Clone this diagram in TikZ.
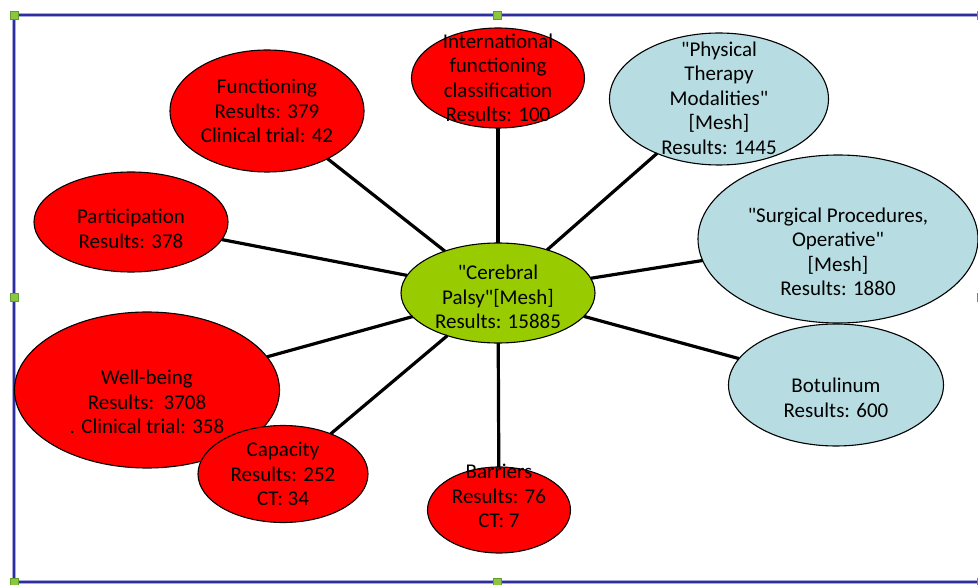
\documentclass[tikz,border=0pt]{standalone}
\usepackage{fontspec}
\setmainfont{Carlito}[Ligatures=TeXOff]
\usetikzlibrary{shapes.geometric}
\definecolor{cpred}{HTML}{FF0000}
\definecolor{cpblue}{HTML}{B7DDE3}
\definecolor{cpgreen}{HTML}{99CC00}
\definecolor{framebl}{HTML}{2E2E9E}
\definecolor{framehalo}{HTML}{A8A8DC}
\definecolor{handlegr}{HTML}{8CC63F}
\definecolor{handleedge}{HTML}{5E9E2C}
\begin{document}
\begin{tikzpicture}[x=1pt,y=-1pt,
  bubble/.style={ellipse,draw=black,line width=1.1pt,inner sep=0pt,outer sep=0pt},
  redb/.style={bubble,fill=cpred},
  blueb/.style={bubble,fill=cpblue},
  greenb/.style={bubble,fill=cpgreen},
  lbl/.style={align=center,font=\fontsize{21}{24.5}\selectfont,text=black,inner sep=0pt},
  link/.style={line width=3.2pt,black},
  handle/.style={fill=handlegr,draw=handleedge,line width=0.8pt}]
\useasboundingbox (0,0) rectangle (978,585);
% frame
\draw[framehalo,line width=3.4pt] (14,15) rectangle (981,582);
\draw[framebl,line width=1.6pt] (14,15) rectangle (981,582);
\foreach \hx/\hy in {14/15,497/15,981/15,14/297,981/297,14/582,497/582,981/582}
  \filldraw[handle] (\hx-4,\hy-4) rectangle (\hx+4,\hy+4);
% ellipses
\node[greenb,minimum width=194pt,minimum height=100pt] (cp) at (498,293) {};
\node[redb,minimum width=173pt,minimum height=100pt] (icf) at (498,78) {};
\node[redb,minimum width=194pt,minimum height=122pt] (fun) at (267,111) {};
\node[redb,minimum width=194pt,minimum height=100pt] (par) at (131,222) {};
\node[redb,minimum width=265pt,minimum height=156pt] (well) at (147,390) {};
\node[redb,minimum width=170pt,minimum height=97pt] (cap) at (283,474) {};
\node[redb,minimum width=143pt,minimum height=86pt] (bar) at (499,510) {};
\node[blueb,minimum width=280pt,minimum height=168pt] (sur) at (838,239) {};
\node[blueb,minimum width=219pt,minimum height=132pt] (phy) at (719,99) {};
\node[blueb,minimum width=215pt,minimum height=122pt] (bot) at (836,385) {};
% connectors
\draw[link] (cp) -- (icf);
\draw[link] (cp) -- (fun);
\draw[link] (cp) -- (par);
\draw[link] (cp) -- (well);
\draw[link] (cp) -- (cap);
\draw[link] (cp) -- (bar);
\draw[link] (cp) -- (phy);
\draw[link] (cp) -- (sur);
\draw[link] (cp) -- (bot);
% texts
\node[lbl] (tcp) at (498,297) {"Cerebral\\Palsy"[Mesh]\\Results: 15885};
\node[lbl] (ticf) at (498,78) {International\\functioning\\classification\\Results: 100};
\node[lbl] (tfun) at (267,111) {Functioning\\Results: 379\\Clinical trial: 42};
\node[lbl] (tpar) at (131,229) {Participation\\Results: 378};
\node[lbl] (twell) at (147,402) {Well-being\\Results:\ \ 3708\\. Clinical trial: 358};
\node[lbl] (tcap) at (283,474) {Capacity\\Results: 252\\CT: 34};
\node[lbl] (tbar) at (499,496) {Barriers\\Results: 76\\CT: 7};
\node[lbl] (tphy) at (719,98) {"Physical\\Therapy\\Modalities"\\{[Mesh]}\\Results: 1445};
\node[lbl] (tsur) at (838,252) {"Surgical Procedures,\\Operative"\\{[Mesh]}\\Results: 1880};
\node[lbl] (tbot) at (836,398) {Botulinum\\Results: 600};
\end{tikzpicture}
\end{document}
